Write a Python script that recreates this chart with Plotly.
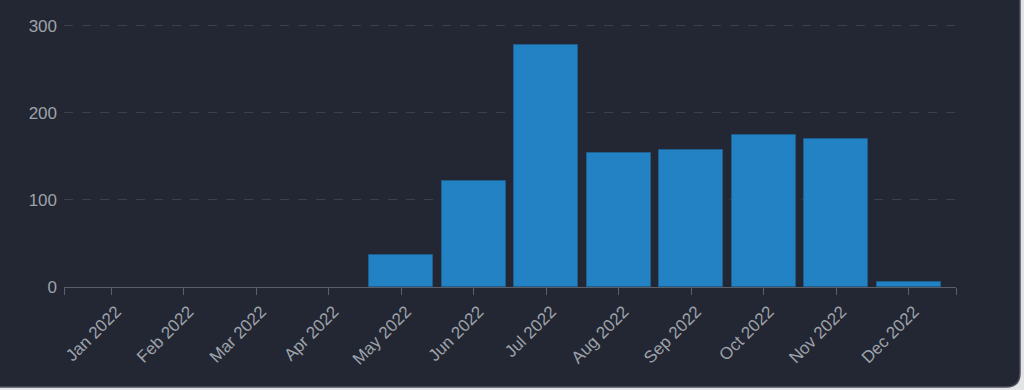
import plotly.graph_objects as go

months = ["Jan 2022", "Feb 2022", "Mar 2022", "Apr 2022", "May 2022", "Jun 2022",
          "Jul 2022", "Aug 2022", "Sep 2022", "Oct 2022", "Nov 2022", "Dec 2022"]
counts = [0, 0, 0, 0, 37, 122, 278, 154, 157, 174, 170, 6]
y_ticks = [0, 100, 200, 300]

x_idx = list(range(len(months)))
x_lo, x_hi = -0.65, len(months) - 1 + 0.65
y_top = 302

fig = go.Figure()
fig.add_trace(go.Bar(
    x=x_idx, y=counts, width=0.88,
    marker=dict(color="#2382c4",
                line=dict(color="#1d5f8e", width=[1 if v else 0 for v in counts])),
    hoverinfo="y",
))

W, H = 1024, 390
ml, mr = 64, 68
mb = 390 - 287
ph = 87 * y_top / 100
mt = H - mb - ph
pw = W - ml - mr

def px2x(p):
    return (p - ml) / pw

def py2y(p):
    return (H - mb - p) / ph

# card background with rounded bottom-right corner
r = 14
x0, x1 = px2x(-5), px2x(1020)
y0, y1 = py2y(-5), py2y(387)
xr = px2x(1020 - r)
yr = py2y(387 - r)
path = (f"M {x0},{y0} L {x1},{y0} L {x1},{yr} Q {x1},{y1} {xr},{y1} "
        f"L {x0},{y1} Z")
fig.add_shape(type="path", path=path, xref="paper", yref="paper",
              fillcolor="#222733", line=dict(color="#4b505b", width=1.5),
              layer="below")

fig.update_layout(
    width=W, height=H,
    margin=dict(l=ml, r=mr, t=mt, b=mb, autoexpand=False),
    paper_bgcolor="#e4e4e6",
    plot_bgcolor="rgba(0,0,0,0)",
    showlegend=False,
    bargap=0,
    font=dict(family="Liberation Sans, Arial, sans-serif", size=17, color="#9ea2aa"),
    xaxis=dict(
        range=[x_lo, x_hi],
        tickmode="array",
        tickvals=[x_lo] + x_idx + [x_hi],
        ticktext=[""] + months + [""],
        tickangle=-45,
        ticks="outside", ticklen=7, tickcolor="#5a5f6a", tickwidth=1,
        ticklabelshift=5,
        showline=True, linecolor="#5a5f6a", linewidth=1,
        showgrid=False, zeroline=False,
        automargin=False,
        fixedrange=True,
    ),
    yaxis=dict(
        range=[0, y_top],
        tickmode="array", tickvals=y_ticks,
        showgrid=True, gridcolor="#3a404c", griddash="dash", gridwidth=1,
        zeroline=False, showline=False,
        ticks="", ticklabelstandoff=6,
        automargin=False,
        fixedrange=True,
    ),
)

fig.write_html(
    "out.html",
    config={"displayModeBar": False},
    post_script="document.body.style.margin='0';document.body.style.overflow='hidden';",
)
